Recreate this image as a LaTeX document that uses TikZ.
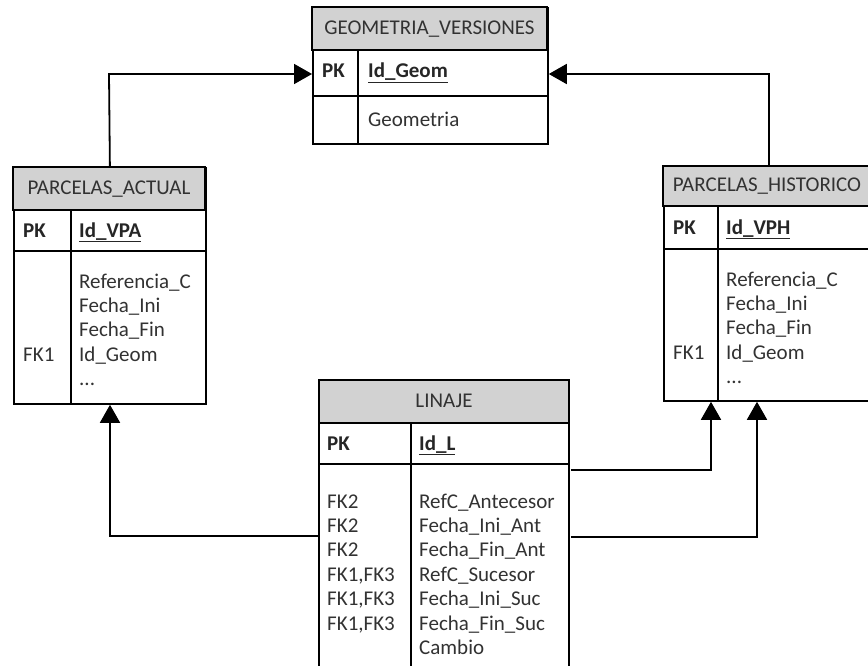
\documentclass[tikz,border=0pt]{standalone}
\usepackage{fontspec}
\setmainfont{Carlito}
\usetikzlibrary{arrows.meta}
\definecolor{hdr}{RGB}{210,210,210}
\definecolor{txt}{RGB}{50,50,50}
\newcommand{\fsz}{\fontsize{21}{24.4}\selectfont}
\tikzset{
  tbl/.style={draw=black, line width=1.8pt, fill=white, inner sep=0pt, anchor=north west},
  hdrbox/.style={fill=hdr, draw=black, line width=1.8pt},
  rule/.style={draw=black, line width=1.8pt},
  ttl/.style={anchor=base, font=\fsz, text=txt, inner sep=0pt},
  lbl/.style={anchor=base west, font=\fsz, text=txt, inner sep=0pt},
  keylbl/.style={anchor=base west, font=\fsz\bfseries, text=black!85, inner sep=0pt},
  conn/.style={line width=1.8pt, -{Triangle[width=20pt,length=18pt]}}
}
\begin{document}
\begin{tikzpicture}
\useasboundingbox (0,0) rectangle (868pt,-666pt);

% GEOMETRIA_VERSIONES
\node[tbl, minimum width=235pt, minimum height=136pt] (gv) at (312pt,-7pt) {};
\draw[hdrbox] (312pt,-7pt) rectangle (547pt,-50pt);
\draw[rule] (312pt,-96pt) -- (547pt,-96pt);
\draw[rule] (358pt,-50pt) -- (358pt,-143pt);
\node[ttl] (gvt) at (429.5pt,-35pt) {GEOMETRIA\_VERSIONES};
\node[keylbl] (gvpk) at (322pt,-78pt) {PK};
\node[keylbl] (gvid) at (368pt,-78pt) {\underline{Id\_Geom}};
\node[lbl] (gvf) at (368pt,-127pt) {Geometria};

% PARCELAS_ACTUAL
\node[tbl, minimum width=192pt, minimum height=236pt] (pa) at (13pt,-167pt) {};
\draw[hdrbox] (13pt,-167pt) rectangle (205pt,-210pt);
\draw[rule] (13pt,-251pt) -- (205pt,-251pt);
\draw[rule] (71pt,-210pt) -- (71pt,-403pt);
\node[ttl] (pat) at (109pt,-195pt) {PARCELAS\_ACTUAL};
\node[keylbl] (papk) at (23pt,-237pt) {PK};
\node[keylbl] (paid) at (79pt,-237pt) {\underline{Id\_VPA}};
\node[lbl] (paf) at (79pt,-288pt) {\begin{tabular}[t]{@{}l@{}}Referencia\_C\\ Fecha\_Ini\\ Fecha\_Fin\\ Id\_Geom\\ ...\end{tabular}};
\node[lbl] (pafk) at (23pt,-361.2pt) {FK1};

% PARCELAS_HISTORICO (runs past the right edge)
\node[tbl, minimum width=210pt, minimum height=234pt] (ph) at (663pt,-166pt) {};
\draw[hdrbox] (663pt,-166pt) rectangle (873pt,-206pt);
\draw[rule] (663pt,-249pt) -- (873pt,-249pt);
\draw[rule] (718pt,-206pt) -- (718pt,-400pt);
\node[ttl] (pht) at (767pt,-192pt) {PARCELAS\_HISTORICO};
\node[keylbl] (phpk) at (673pt,-234pt) {PK};
\node[keylbl] (phid) at (726pt,-234pt) {\underline{Id\_VPH}};
\node[lbl] (phf) at (726pt,-286pt) {\begin{tabular}[t]{@{}l@{}}Referencia\_C\\ Fecha\_Ini\\ Fecha\_Fin\\ Id\_Geom\\ ...\end{tabular}};
\node[lbl] (phfk) at (673pt,-359.2pt) {FK1};

% LINAJE
\node[tbl, draw=none, fill=none, minimum width=250pt, minimum height=290pt] (li) at (319pt,-380pt) {};
\fill[white] (319pt,-380pt) rectangle (569pt,-670pt);
\draw[hdrbox] (319pt,-380pt) rectangle (569pt,-423pt);
\draw[rule] (319pt,-423pt) -- (319pt,-670pt);
\draw[rule] (569pt,-423pt) -- (569pt,-670pt);
\draw[rule] (319pt,-464pt) -- (569pt,-464pt);
\draw[rule] (411pt,-423pt) -- (411pt,-670pt);
\node[ttl] (lit) at (444pt,-407pt) {LINAJE};
\node[keylbl] (lipk) at (327pt,-450pt) {PK};
\node[keylbl] (liid) at (419pt,-450pt) {\underline{Id\_L}};
\node[lbl] (lifk) at (327pt,-508pt) {\begin{tabular}[t]{@{}l@{}}FK2\\ FK2\\ FK2\\ FK1,FK3\\ FK1,FK3\\ FK1,FK3\end{tabular}};
\node[lbl] (lif) at (419pt,-508pt) {\begin{tabular}[t]{@{}l@{}}RefC\_Antecesor\\ Fecha\_Ini\_Ant\\ Fecha\_Fin\_Ant\\ RefC\_Sucesor\\ Fecha\_Ini\_Suc\\ Fecha\_Fin\_Suc\\ Cambio\end{tabular}};

% connectors
\coordinate (j1) at (109pt,-74pt);
\coordinate (j2) at (769pt,-74pt);
\coordinate (j3) at (110pt,-536pt);
\coordinate (j4) at (711pt,-470pt);
\coordinate (j5) at (757pt,-537pt);
\draw[conn] (pa.north) -- (j1) -- (j1 -| gv.west);
\draw[conn] (j2 |- ph.north) -- (j2) -- (j2 -| gv.east);
\draw[conn] (j3 -| li.west) -- (j3) -- (j3 |- pa.south);
\draw[conn] (j4 -| li.east) -- (j4) -- (j4 |- ph.south);
\draw[conn] (j5 -| li.east) -- (j5) -- (j5 |- ph.south);
\end{tikzpicture}
\end{document}
